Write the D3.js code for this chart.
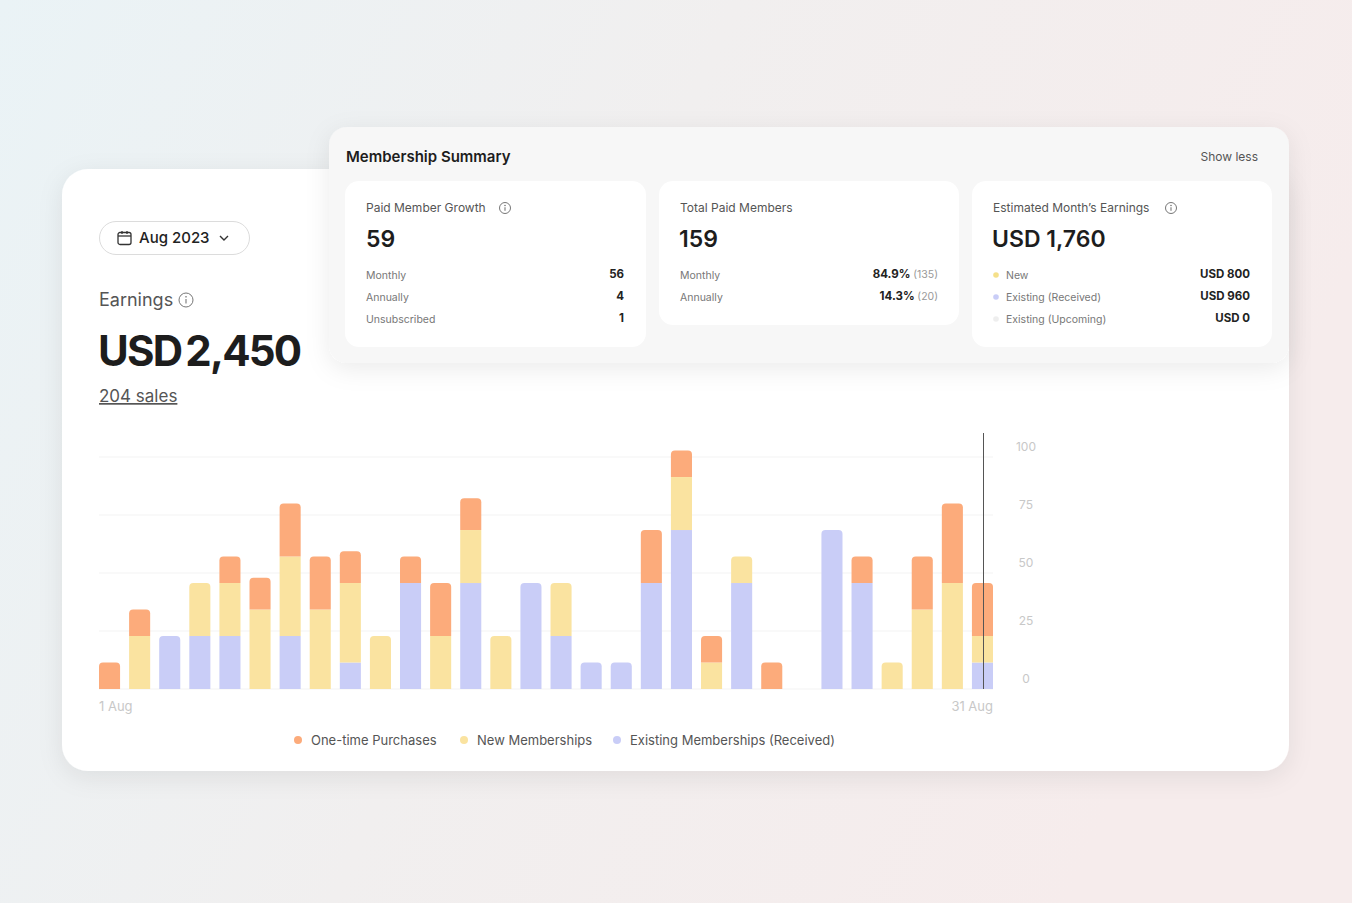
<!DOCTYPE html>
<html><head><meta charset="utf-8">
<script src="https://cdn.jsdelivr.net/npm/d3@7"></script>
<style>html,body{margin:0;padding:0;overflow:hidden}body{width:1352px;height:903px}text{font-family:Inter,"Open Sans",sans-serif}</style>
</head><body>
<svg id="c" width="1352" height="903"></svg>
<script>
const B = 11.42; // one stacked block in axis units
const days = d3.range(1, 31);
const existing = [0,0,2,2,2,0,2,0,1,0,4,0,4,0,4,2,1,1,4,6,0,4,0,0,6,4,0,0,0,1].map(v=>v*B);
const newM =     [0,2,0,2,2,3,3,3,3,2,0,2,2,2,0,2,0,0,0,2,1,1,0,0,0,0,1,3,4,1].map(v=>v*B);
const oneTime =  [1,1,0,0,1,1.2,2,2,1.2,0,1,2,1.2,0,0,0,0,0,2,1,1,0,1,0,0,1,0,2,3,2].map(v=>v*B);
const yTicks = [0,25,50,75,100];
const xTickLabels = ["1 Aug","31 Aug"];
const seriesNames = ["One-time Purchases","New Memberships","Existing Memberships (Received)"];
const colors = {existing:"#c9cdf7", newM:"#fae3a0", oneTime:"#fcab7b"};

const svg = d3.select("#c");
const defs = svg.append("defs");
const bg = defs.append("linearGradient").attr("id","bg").attr("x1","0").attr("x2","1").attr("y1","0").attr("y2","0.3");
bg.append("stop").attr("offset","0").attr("stop-color","#eaf3f6");
bg.append("stop").attr("offset","0.5").attr("stop-color","#f1efef");
bg.append("stop").attr("offset","1").attr("stop-color","#f6ecec");
const f = defs.append("filter").attr("id","sh").attr("x","-10%").attr("y","-20%").attr("width","120%").attr("height","150%");
f.append("feDropShadow").attr("dx",0).attr("dy",6).attr("stdDeviation",12).attr("flood-color","#000").attr("flood-opacity",0.08);
svg.append("rect").attr("width",1352).attr("height",903).attr("fill","url(#bg)");

svg.append("rect").attr("x",62).attr("y",169).attr("width",1227).attr("height",602).attr("rx",26).attr("fill","#fff").attr("filter","url(#sh)");

svg.append("rect").attr("x",99.5).attr("y",221.5).attr("width",150).attr("height",33).attr("rx",16.5).attr("fill","#fff").attr("stroke","#dcdcdc");
const cal = svg.append("g").attr("transform","translate(118,231)").attr("fill","none").attr("stroke","#333").attr("stroke-width",1.3);
cal.append("rect").attr("x",0).attr("y",1.5).attr("width",13).attr("height",12).attr("rx",2);
cal.append("line").attr("x1",0).attr("x2",13).attr("y1",5).attr("y2",5);
cal.append("line").attr("x1",4).attr("x2",4).attr("y1",0).attr("y2",3);
cal.append("line").attr("x1",9).attr("x2",9).attr("y1",0).attr("y2",3);
svg.append("text").attr("x",139).attr("y",243).attr("font-size",15).attr("font-weight",500).attr("fill","#222").text("Aug 2023");
svg.append("path").attr("d","M220,236 l4,4 l4,-4").attr("fill","none").attr("stroke","#333").attr("stroke-width",1.4);
svg.append("text").attr("x",99).attr("y",306).attr("font-size",18).attr("fill","#555").text("Earnings");
function info(x,y,r){const g=svg.append("g").attr("transform",`translate(${x},${y})`);
 g.append("circle").attr("r",r).attr("fill","none").attr("stroke","#777").attr("stroke-width",1);
 g.append("line").attr("x1",0).attr("x2",0).attr("y1",-r*0.15).attr("y2",r*0.5).attr("stroke","#777").attr("stroke-width",1.1);
 g.append("circle").attr("cy",-r*0.45).attr("r",0.8).attr("fill","#777");}
info(186,300,7);
svg.append("text").attr("x",98).attr("y",366).attr("font-size",42).attr("font-weight",700).attr("fill","#1d1d1d").attr("letter-spacing",-1.8).attr("word-spacing",-4).text("USD 2,450");
svg.append("text").attr("x",99).attr("y",402).attr("font-size",17).attr("fill","#555").attr("text-decoration","underline").text("204 sales");

const x = d3.scaleBand().domain(days).range([99,993]).paddingInner(0.3).paddingOuter(0);
const y = d3.scaleLinear().domain([0,100]).range([689,457]);
svg.append("g").selectAll("line").data(yTicks).join("line")
 .attr("x1",99).attr("x2",993).attr("y1",d=>y(d)).attr("y2",d=>y(d)).attr("stroke","#f3f3f3");
svg.append("g").selectAll("text").data(yTicks).join("text")
 .attr("x",1026).attr("y",d=>y(d)-6).attr("text-anchor","middle").attr("font-size",12).attr("fill","#c8c8c8").text(d=>d);
const stackData = days.map((d,i)=>({day:d, existing:existing[i], newM:newM[i], oneTime:oneTime[i]}));
const keys = ["existing","newM","oneTime"];
const stacked = d3.stack().keys(keys)(stackData);
const g = svg.append("g");
stackData.forEach((d,i)=>{
  const top = [...keys].reverse().find(k=>d[k]>0);
  keys.forEach((k,ki)=>{
    const s = stacked[ki][i]; if (s[1]-s[0] <= 0) return;
    const x0 = x(d.day), w = x.bandwidth(), y0 = y(s[0]), y1 = y(s[1]);
    if (k===top){
      const r=4;
      g.append("path").attr("fill",colors[k]).attr("d",`M${x0},${y0}V${y1+r}Q${x0},${y1} ${x0+r},${y1}H${x0+w-r}Q${x0+w},${y1} ${x0+w},${y1+r}V${y0}Z`);
    } else g.append("rect").attr("fill",colors[k]).attr("x",x0).attr("y",y1).attr("width",w).attr("height",y0-y1);
  });
});
svg.append("line").attr("x1",983.5).attr("x2",983.5).attr("y1",433).attr("y2",689).attr("stroke","#555").attr("stroke-width",1);
svg.append("text").attr("x",99).attr("y",711).attr("font-size",13).attr("fill","#c8c8c8").text(xTickLabels[0]);
svg.append("text").attr("x",993).attr("y",711).attr("text-anchor","end").attr("font-size",13).attr("fill","#c8c8c8").text(xTickLabels[1]);
const lg=[{x:298,c:colors.oneTime},{x:464,c:colors.newM},{x:617,c:colors.existing}];
lg.forEach((l,i)=>{svg.append("circle").attr("cx",l.x).attr("cy",740).attr("r",4).attr("fill",l.c);
 svg.append("text").attr("x",l.x+13).attr("y",745).attr("font-size",13).attr("fill","#555").text(seriesNames[i]);});

svg.append("rect").attr("x",329).attr("y",127).attr("width",960).attr("height",236).attr("rx",18).attr("fill","#f7f7f7").attr("filter","url(#sh)");
svg.append("text").attr("x",346).attr("y",162).attr("font-size",15).attr("font-weight",600).attr("fill","#1d1d1d").text("Membership Summary");
svg.append("text").attr("x",1258).attr("y",161).attr("text-anchor","end").attr("font-size",12).attr("fill","#555").text("Show less");
const cards=[{x:345,w:301,h:166},{x:659,w:300,h:144},{x:972,w:300,h:166}];
cards.forEach(c=>svg.append("rect").attr("x",c.x).attr("y",181).attr("width",c.w).attr("height",c.h).attr("rx",14).attr("fill","#fff"));
function small(x,y,t,anchor,col,w){return svg.append("text").attr("x",x).attr("y",y).attr("font-size",10.5).attr("text-anchor",anchor||"start").attr("fill",col||"#777").attr("font-weight",w||400).text(t);}
svg.append("text").attr("x",366).attr("y",212).attr("font-size",12).attr("fill","#555").text("Paid Member Growth");
info(505,208,5.5);
svg.append("text").attr("x",366).attr("y",247).attr("font-size",23).attr("font-weight",600).attr("fill","#1d1d1d").text("59");
[["Monthly","56"],["Annually","4"],["Unsubscribed","1"]].forEach((r,i)=>{small(366,279+i*22,r[0]);small(624,278+i*22,r[1],"end","#222",700).attr("font-size",11.5);});
svg.append("text").attr("x",680).attr("y",212).attr("font-size",12).attr("fill","#555").text("Total Paid Members");
svg.append("text").attr("x",679).attr("y",247).attr("font-size",23).attr("font-weight",600).attr("fill","#1d1d1d").text("159");
[["Monthly","84.9%","(135)"],["Annually","14.3%","(20)"]].forEach((r,i)=>{small(680,279+i*22,r[0]);
 const t=svg.append("text").attr("x",938).attr("y",278+i*22).attr("text-anchor","end").attr("font-size",11.5);
 t.append("tspan").attr("font-weight",700).attr("fill","#222").text(r[1]+" ");t.append("tspan").attr("fill","#999").attr("font-size",10.5).text(r[2]);});
svg.append("text").attr("x",993).attr("y",212).attr("font-size",12).attr("fill","#555").text("Estimated Month’s Earnings");
info(1171,208,5.5);
svg.append("text").attr("x",992).attr("y",247).attr("font-size",23).attr("font-weight",600).attr("fill","#1d1d1d").text("USD 1,760");
[["New","USD 800","#f5e08a"],["Existing (Received)","USD 960","#c9cdf7"],["Existing (Upcoming)","USD 0","#eeeeee"]].forEach((r,i)=>{
 svg.append("circle").attr("cx",996).attr("cy",275+i*22).attr("r",2.8).attr("fill",r[2]);
 small(1006,279+i*22,r[0]);small(1250,278+i*22,r[1],"end","#222",700).attr("font-size",11.5);});
</script></body></html>
